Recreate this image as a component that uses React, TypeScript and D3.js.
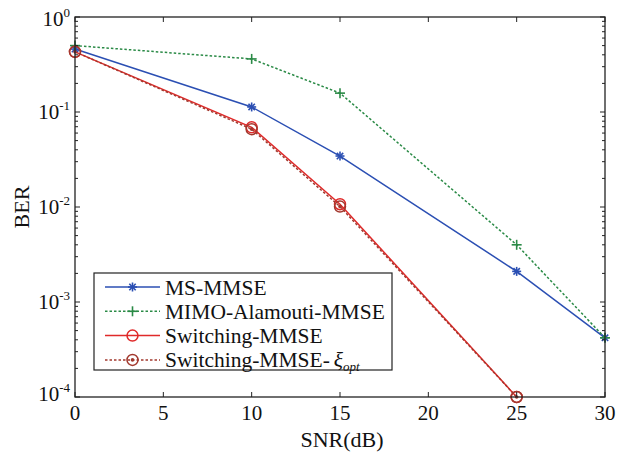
import React from 'react';
import * as d3 from 'd3';

const snr = [0, 10, 15, 25, 30];
const msMmse = [0.46, 0.113, 0.0344, 0.0021, 0.00042];
const mimoAlamouti = [0.5, 0.362, 0.158, 0.0040, 0.00042];
const snrSwitch = [0, 10, 15, 25];
const switching = [0.43, 0.069, 0.0107, 0.0001];
const switchingOpt = [0.43, 0.066, 0.0101, 0.0001];

const xTicks = [0, 5, 10, 15, 20, 25, 30];
const yExps = [0, -1, -2, -3, -4];

const W = 627, H = 454;
const left = 75, right = 605, top = 17, bottom = 397;
const serif = '"Liberation Serif", "Times New Roman", serif';

const x = d3.scaleLinear().domain([0, 30]).range([left, right]);
const y = d3.scaleLog().domain([1e-4, 1]).range([bottom, top]);

const line = d3.line<[number, number]>()
  .x(d => x(d[0]))
  .y(d => y(d[1]));

type Mk = 'star' | 'plus' | 'circle' | 'circdot';

const Marker = ({ kind, cx, cy, color }: { kind: Mk, cx: number, cy: number, color: string }) => {
  const r = 4.5;
  if (kind === 'star') {
    return (
      <g stroke={color} strokeWidth={1.6}>
        <line x1={cx - r} y1={cy} x2={cx + r} y2={cy} />
        <line x1={cx} y1={cy - r} x2={cx} y2={cy + r} />
        <line x1={cx - 3.2} y1={cy - 3.2} x2={cx + 3.2} y2={cy + 3.2} />
        <line x1={cx - 3.2} y1={cy + 3.2} x2={cx + 3.2} y2={cy - 3.2} />
      </g>
    );
  }
  if (kind === 'plus') {
    return (
      <g stroke={color} strokeWidth={1.6}>
        <line x1={cx - 5} y1={cy} x2={cx + 5} y2={cy} />
        <line x1={cx} y1={cy - 5} x2={cx} y2={cy + 5} />
      </g>
    );
  }
  return (
    <g>
      <circle cx={cx} cy={cy} r={5.5} fill="none" stroke={color} strokeWidth={1.5} />
      {kind === 'circdot' && <circle cx={cx} cy={cy} r={1.8} fill={color} />}
    </g>
  );
};

const series = [
  { name: 'MS-MMSE', xs: snr, ys: msMmse, color: '#2b4fb3', dash: '', mk: 'star' as Mk },
  { name: 'MIMO-Alamouti-MMSE', xs: snr, ys: mimoAlamouti, color: '#2a8a46', dash: '2.5 2', mk: 'plus' as Mk },
  { name: 'Switching-MMSE', xs: snrSwitch, ys: switching, color: '#e02a2a', dash: '', mk: 'circle' as Mk },
  { name: 'Switching-MMSE-', xs: snrSwitch, ys: switchingOpt, color: '#a2392e', dash: '2.5 2', mk: 'circdot' as Mk },
];

export default function App() {
  const minor: number[] = [];
  for (let e = -4; e < 0; e++) {
    for (let m = 2; m <= 9; m++) minor.push(m * Math.pow(10, e));
  }

  const legX = 94, legY = 273, legW = 298, legH = 97, rowH = 24.3;

  return (
    <svg width={W} height={H} style={{ position: 'absolute', left: 0, top: 0, background: '#fff' }}
      fontFamily={serif}>
      <rect x={0} y={0} width={W} height={H} fill="#fff" />

      {/* series */}
      {series.map(s => (
        <g key={s.name}>
          <path d={line(s.xs.map((v, i) => [v, s.ys[i]] as [number, number])) || ''}
            fill="none" stroke={s.color} strokeWidth={1.5} strokeDasharray={s.dash} />
          {s.xs.map((v, i) => (
            <Marker key={i} kind={s.mk} cx={x(v)} cy={y(s.ys[i])} color={s.color} />
          ))}
        </g>
      ))}

      {/* frame */}
      <rect x={left} y={top} width={right - left} height={bottom - top} fill="none" stroke="#222" strokeWidth={1.3} />

      {/* x ticks */}
      {xTicks.map(t => (
        <g key={t}>
          <line x1={x(t)} x2={x(t)} y1={bottom} y2={bottom - 5} stroke="#222" />
          <line x1={x(t)} x2={x(t)} y1={top} y2={top + 5} stroke="#222" />
          <text x={x(t)} y={bottom + 23} textAnchor="middle" fontSize={21} fill="#111">{t}</text>
        </g>
      ))}

      {/* y ticks */}
      {yExps.map(e => (
        <g key={e}>
          <line x1={left} x2={left + 5} y1={y(Math.pow(10, e))} y2={y(Math.pow(10, e))} stroke="#222" />
          <line x1={right} x2={right - 5} y1={y(Math.pow(10, e))} y2={y(Math.pow(10, e))} stroke="#222" />
          <text x={left - 5} y={y(Math.pow(10, e)) + (e === 0 ? 9 : e === -4 ? 4 : 7)} textAnchor="end" fontSize={21} fill="#111">
            10
            <tspan fontSize={13} dy={-9}>{e === 0 ? '0' : '-' + Math.abs(e)}</tspan>
          </text>
        </g>
      ))}
      {minor.map((v, i) => (
        <g key={i}>
          <line x1={left} x2={left + 3} y1={y(v)} y2={y(v)} stroke="#222" />
          <line x1={right} x2={right - 3} y1={y(v)} y2={y(v)} stroke="#222" />
        </g>
      ))}

      {/* axis titles */}
      <text x={342} y={447} textAnchor="middle" fontSize={22} fill="#111">SNR(dB)</text>
      <text transform={`translate(29 ${(top + bottom) / 2}) rotate(-90)`} textAnchor="middle" fontSize={22} fill="#111">BER</text>

      {/* legend */}
      <rect x={legX} y={legY} width={legW} height={legH} fill="#fff" stroke="#222" strokeWidth={1.2} />
      {series.map((s, i) => {
        const cy = legY + 14 + i * rowH;
        return (
          <g key={s.name}>
            <line x1={legX + 11} x2={legX + 66} y1={cy} y2={cy} stroke={s.color} strokeWidth={1.5} strokeDasharray={s.dash} />
            <Marker kind={s.mk} cx={legX + 38.5} cy={cy} color={s.color} />
            <text x={legX + 71} y={cy + 7.5} fontSize={21.5} fill="#111">
              {s.name}
              {i === 3 && (
                <>
                  <tspan fontStyle="italic" dx={4}>ξ</tspan>
                  <tspan fontStyle="italic" fontSize={13} dy={4}>opt</tspan>
                </>
              )}
            </text>
          </g>
        );
      })}
    </svg>
  );
}
